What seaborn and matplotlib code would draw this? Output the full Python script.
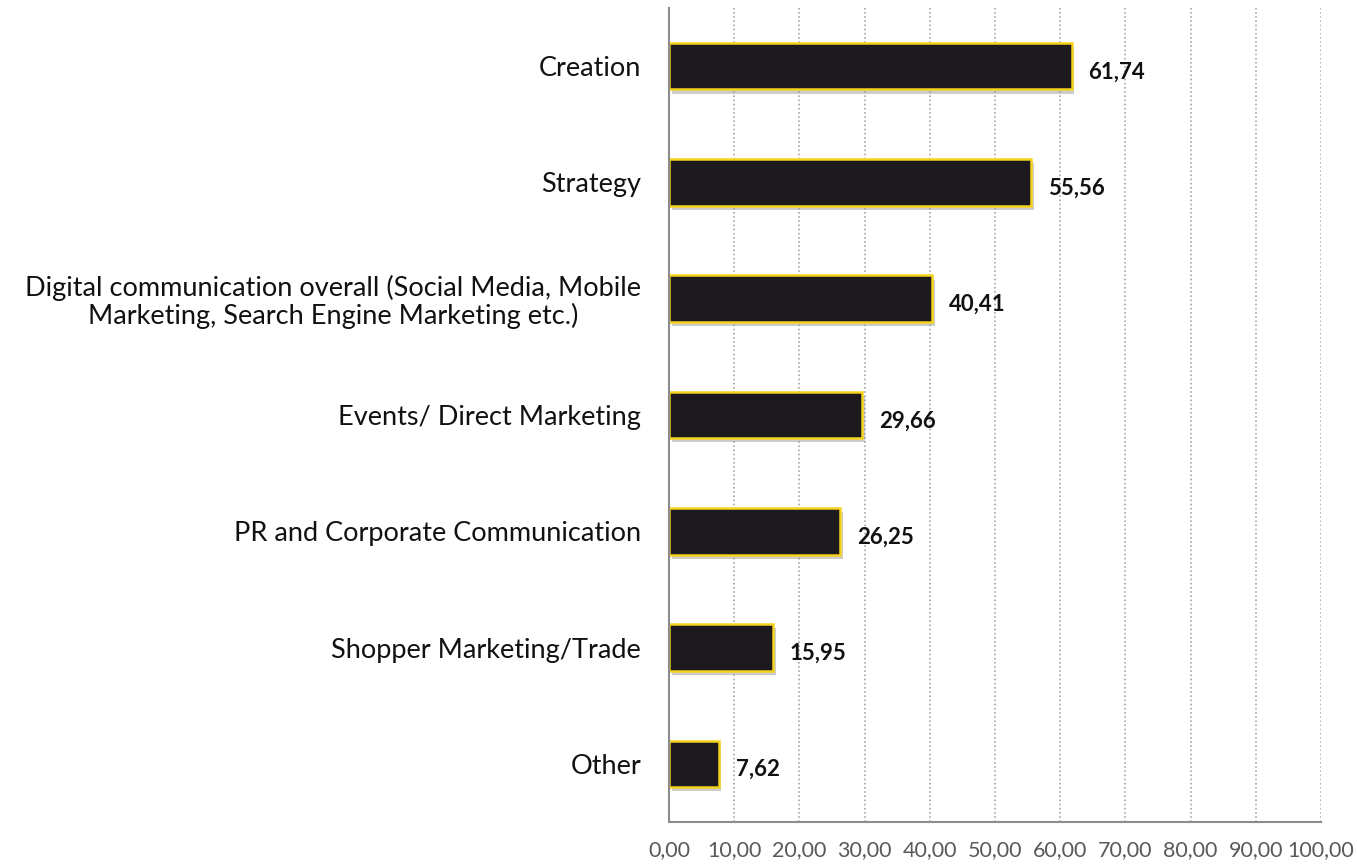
import matplotlib
matplotlib.use("Agg")
import matplotlib.pyplot as plt
import matplotlib.patheffects as pe
import seaborn as sns
import pandas as pd

categories = [
    "Creation",
    "Strategy",
    "Digital communication overall (Social Media, Mobile\nMarketing, Search Engine Marketing etc.)",
    "Events/ Direct Marketing",
    "PR and Corporate Communication",
    "Shopper Marketing/Trade",
    "Other",
]
values = [61.74, 55.56, 40.41, 29.66, 26.25, 15.95, 7.62]
xticks = [0, 10, 20, 30, 40, 50, 60, 70, 80, 90, 100]

df = pd.DataFrame({"category": categories, "value": values})

sns.set_theme(style="white")
plt.rcParams["font.family"] = ["Lato", "DejaVu Sans"]

fig = plt.figure(figsize=(13.57, 8.67), dpi=100)
ax = fig.add_axes([669 / 1357, 1 - 822 / 867, (1321 - 669) / 1357, (822 - 8) / 867])

sns.barplot(data=df, x="value", y="category", orient="h", ax=ax,
            color="#1c1a1f", width=0.4, edgecolor="#f5d31c", linewidth=1.8,
            saturation=1)

for bar in ax.patches:
    bar.set_path_effects([
        pe.SimplePatchShadow(offset=(2, -3), shadow_rgbFace="#9a9a9a", alpha=0.5),
        pe.Normal(),
    ])

for i, v in enumerate(values):
    ax.text(v + 2.6, i + 0.05, f"{v:.2f}".replace(".", ","), va="center", ha="left",
            fontsize=16, fontweight="bold", color="#111111")

ax.set_xlim(0, 100)
ax.set_ylim(6.5, -0.5)
ax.set_xticks(xticks)
ax.set_xticklabels([f"{t:.2f}".replace(".", ",") for t in xticks],
                   fontsize=15.5, color="#595959")
ax.tick_params(axis="x", length=0, pad=13)
ax.tick_params(axis="y", length=0, pad=20, labelsize=19.5, labelcolor="#111111")
for lbl in ax.get_yticklabels():
    lbl.set_multialignment("center")
    lbl.set_linespacing(1.1)

ax.set_xlabel("")
ax.set_ylabel("")

for t in xticks[1:]:
    ax.axvline(t, color="#a6a6a6", linestyle=(0, (1, 1.5)), linewidth=1.2, zorder=0)

for side in ("top", "right"):
    ax.spines[side].set_visible(False)
for side in ("left", "bottom"):
    ax.spines[side].set_color("#8c8c8c")
    ax.spines[side].set_linewidth(1.5)

fig.savefig("out.png", dpi=100)
